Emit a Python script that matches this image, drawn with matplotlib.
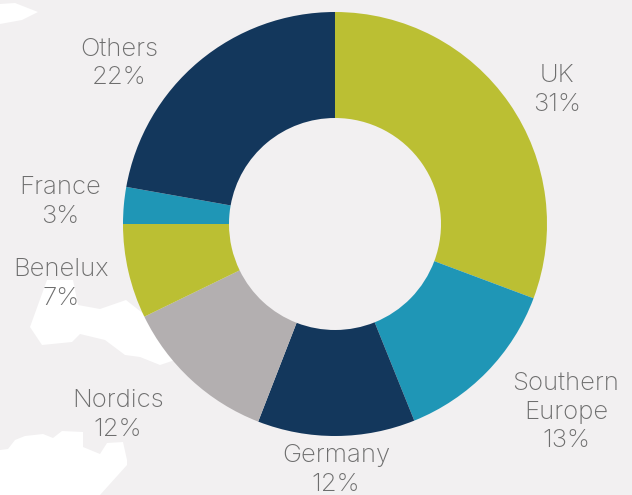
import matplotlib
matplotlib.use("Agg")
import matplotlib.pyplot as plt
from matplotlib.patches import Polygon

# regional split, clockwise from the top
regions = ['UK', 'Southern\nEurope', 'Germany', 'Nordics', 'Benelux', 'France', 'Others']
shares = [30.7, 13.2, 12.0, 11.9, 7.2, 2.8, 22.2]
share_labels = ['31%', '13%', '12%', '12%', '7%', '3%', '22%']
colors = ['#bbbf33', '#1f96b6', '#13375c', '#b3afb0', '#bbbf33', '#1f96b6', '#13375c']

# where each label sits, in image pixels
label_pos = [(557, 90), (566, 412), (336, 470), (118, 415), (61, 284), (60, 202), (119, 63)]

BG = '#f2f0f1'
TEXT = '#6e6e6e'
W, H = 632, 495

plt.rcParams['font.family'] = ['Inter', 'DejaVu Sans']

fig = plt.figure(figsize=(W / 100, H / 100), dpi=100, facecolor=BG)

# background map shapes in image pixels
bg_ax = fig.add_axes([0, 0, 1, 1])
bg_ax.set_xlim(0, W)
bg_ax.set_ylim(H, 0)
bg_ax.axis('off')
land = [
    [(0, 4), (15, 3), (38, 12), (22, 20), (0, 24)],
    [(47, 280), (73, 280), (78, 305), (100, 309), (126, 300), (145, 315), (175, 360),
     (160, 365), (140, 357), (125, 355), (105, 340), (80, 334), (72, 342), (42, 345), (30, 327)],
    [(0, 450), (8, 449), (15, 440), (25, 436), (43, 434), (53, 438), (62, 431), (83, 432),
     (83, 447), (100, 454), (107, 443), (123, 442), (127, 460), (127, 465), (100, 495), (0, 495)],
]
for shape in land:
    bg_ax.add_patch(Polygon(shape, closed=True, facecolor='white', edgecolor='none'))

# square axes, pie spans 424 px across, centred on (335, 224)
R = 212
ax = fig.add_axes([(335 - R) / W, 1 - (224 + R) / H, 2 * R / W, 2 * R / H])
ax.pie(shares, colors=colors, startangle=90, counterclock=False, radius=1,
       wedgeprops={'width': 0.5, 'linewidth': 0})
ax.set_xlim(-1, 1)
ax.set_ylim(-1, 1)
ax.set_aspect('equal')

for region, label, (x, y) in zip(regions, share_labels, label_pos):
    fig.text(x / W, 1 - y / H, f'{region}\n{label}', ha='center', va='center',
             fontsize=18.5, fontweight='light', color=TEXT, linespacing=1.3)

fig.savefig('out.png', dpi=100, facecolor=BG)
